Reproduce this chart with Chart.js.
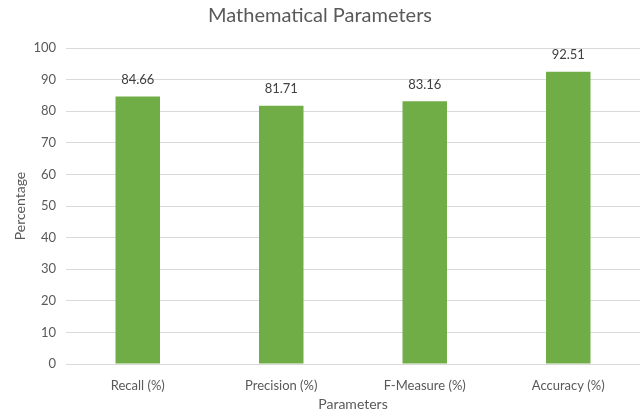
<!DOCTYPE html>
<html>
<head>
<meta charset="utf-8">
<script src="https://cdn.jsdelivr.net/npm/chart.js@4"></script>
<style>
  html, body { margin: 0; padding: 0; background: #fff; }
  #wrap { position: relative; width: 642px; height: 415px; }
</style>
</head>
<body>
<div id="wrap"><canvas id="chart"></canvas></div>
<script>
const categories = ['Recall (%)', 'Precision (%)', 'F-Measure (%)', 'Accuracy (%)'];
const values = [84.66, 81.71, 83.16, 92.51];

const FONT = 'Lato, "Open Sans", sans-serif';

// draws the value above each bar
const barValues = {
    id: 'barValues',
    afterDatasetsDraw(chart) {
        const ctx = chart.ctx;
        const meta = chart.getDatasetMeta(0);
        ctx.save();
        ctx.font = '13px ' + FONT;
        ctx.fillStyle = '#404040';
        ctx.textAlign = 'center';
        ctx.textBaseline = 'bottom';
        meta.data.forEach((bar, i) => {
            ctx.fillText(values[i].toFixed(2), bar.x, bar.y - 10);
        });
        ctx.restore();
    }
};

new Chart(document.getElementById('chart'), {
    type: 'bar',
    data: {
        labels: categories,
        datasets: [{
            data: values,
            backgroundColor: '#70AD47',
            categoryPercentage: 1,
            barPercentage: 0.31
        }]
    },
    options: {
        responsive: true,
        maintainAspectRatio: false,
        animation: false,
        layout: { padding: { top: 0, right: 2, left: 0, bottom: 2 } },
        plugins: {
            legend: { display: false },
            tooltip: { enabled: false },
            title: {
                display: true,
                text: 'Mathematical Parameters',
                color: '#595959',
                font: { family: FONT, size: 20, weight: 'normal' },
                padding: { top: 4, bottom: 20 }
            }
        },
        scales: {
            x: {
                grid: { display: false },
                border: { display: false },
                ticks: { color: '#595959', font: { family: FONT, size: 13 }, padding: 6 },
                title: {
                    display: true,
                    text: 'Parameters',
                    color: '#595959',
                    font: { family: FONT, size: 14 },
                    padding: { top: 2, bottom: 0 }
                },
                afterFit(scale) { scale.height = 49; }
            },
            y: {
                min: 0,
                max: 100,
                ticks: { stepSize: 10, color: '#595959', font: { family: FONT, size: 13 }, padding: 10 },
                grid: { color: '#d9d9d9', drawTicks: false },
                border: { display: false },
                title: {
                    display: true,
                    text: 'Percentage',
                    color: '#595959',
                    font: { family: FONT, size: 14 },
                    padding: { top: 12, bottom: 4 }
                },
                afterFit(scale) { scale.width = 66; }
            }
        }
    },
    plugins: [barValues]
});
</script>
</body>
</html>
